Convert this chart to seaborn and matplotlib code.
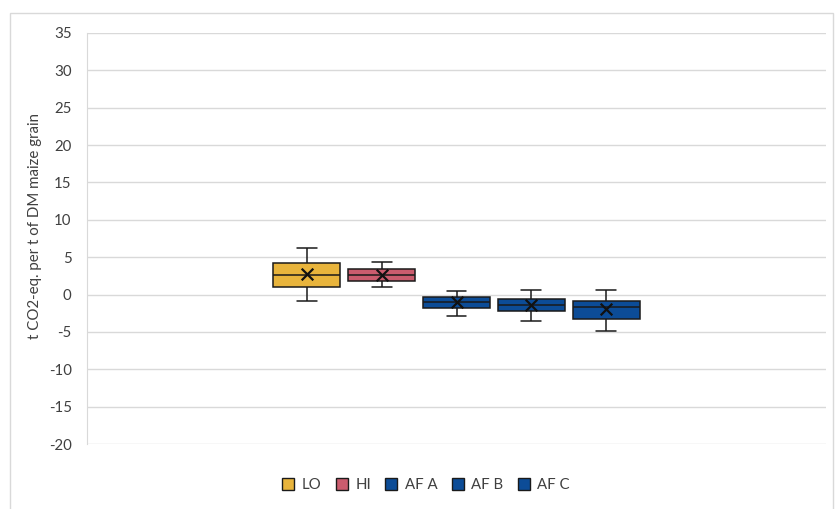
import numpy as np
import pandas as pd
import matplotlib.pyplot as plt
import seaborn as sns
from matplotlib.patches import Patch, Rectangle

sns.set_style('white')
plt.rcParams['font.family'] = ['Lato', 'DejaVu Sans']
plt.rcParams['axes.unicode_minus'] = False

series = ['LO', 'HI', 'AF A', 'AF B', 'AF C']
whisker_low = [-0.8, 0.95, -2.85, -3.55, -4.85]
q1 = [1.05, 1.8, -1.8, -2.15, -3.25]
median = [2.55, 2.55, -1.0, -1.35, -1.7]
q3 = [4.2, 3.45, -0.35, -0.6, -0.9]
whisker_high = [6.2, 4.3, 0.5, 0.65, 0.55]
means = [2.7, 2.65, -1.0, -1.35, -1.95]
colors = ['#E8B43C', '#CB5C6E', '#0C4C97', '#0C4C97', '#0C4C97']

# five summary values per series -> quartiles come out exact with whis=inf
rows = []
for s, a, b, c, d, e in zip(series, whisker_low, q1, median, q3, whisker_high):
    for v in (a, b, c, d, e):
        rows.append({'group': 'all', 'series': s, 'value': v})
df = pd.DataFrame(rows)

fig = plt.figure(figsize=(8.38, 5.09), dpi=100)
ax = fig.add_axes([87 / 838, 1 - 444 / 509, (826 - 87) / 838, (444 - 33) / 509])

pal = dict(zip(series, colors))
sns.boxplot(data=df, x='group', y='value', hue='series', hue_order=series,
            palette=pal, whis=np.inf, width=0.507, gap=0.1, saturation=1,
            linewidth=1.1, linecolor='#1a1a1a', legend=False, ax=ax,
            capwidths=0.027)

# mean markers at the centre of each drawn box
centers = []
for p in ax.patches:
    ext = p.get_path().get_extents()
    centers.append((ext.x0 + ext.x1) / 2)
centers.sort()
ax.scatter(centers, means, marker='x', s=70, linewidths=1.6, color='#111111', zorder=5)

ax.set_xlim(-0.5, 0.5)
ax.set_ylim(-20, 35)
ax.set_yticks(range(-20, 40, 5))
ax.set_xticks([])
ax.set_xlabel('')
ax.set_ylabel('t CO2-eq. per t of DM maize grain', fontsize=10.8, color='#404040')
ax.yaxis.set_label_coords(-0.061, 0.53)
ax.tick_params(axis='y', length=0, pad=11, labelsize=10.8, labelcolor='#404040')
ax.grid(axis='y', color='#d9d9d9', linewidth=1)
ax.set_axisbelow(True)
for side in ['top', 'right', 'bottom']:
    ax.spines[side].set_visible(False)
ax.spines['left'].set_color('#d9d9d9')

fig.patches.append(Rectangle((10 / 838, -0.05), (833 - 10) / 838, 1.05 - 13 / 509,
                             transform=fig.transFigure, fill=False,
                             edgecolor='#d9d9d9', linewidth=1))

handles = [Patch(facecolor=c, edgecolor='#1a1a1a', linewidth=1) for c in colors]
fig.legend(handles, series, loc='center', bbox_to_anchor=(426 / 838, 1 - 485 / 509),
           ncol=5, frameon=False, handlelength=0.8, handleheight=0.8,
           handletextpad=0.5, columnspacing=0.95, fontsize=10.8, labelcolor='#404040')

fig.savefig('out.png', dpi=100)
